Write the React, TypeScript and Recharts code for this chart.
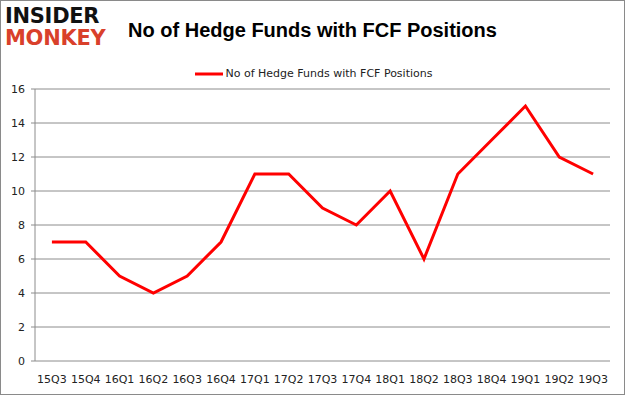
import { LineChart, Line, XAxis, YAxis, CartesianGrid } from "recharts"

const quarters = ["15Q3", "15Q4", "16Q1", "16Q2", "16Q3", "16Q4", "17Q1", "17Q2", "17Q3", "17Q4", "18Q1", "18Q2", "18Q3", "18Q4", "19Q1", "19Q2", "19Q3"]
const hedgeFunds = [7, 7, 5, 4, 5, 7, 11, 11, 9, 8, 10, 6, 11, 13, 15, 12, 11]
const yTicks = [0, 2, 4, 6, 8, 10, 12, 14, 16]

const seriesName = "No of Hedge Funds with FCF Positions"

// x is placed mid-band so tick marks can sit on the band edges, like Excel
const data = quarters.map((q, i) => ({ x: i + 0.5, quarter: q, funds: hedgeFunds[i] }))
const labelTicks = quarters.map((_, i) => i + 0.5)
const edgeTicks = quarters.map((_, i) => i).concat([quarters.length])

const font = "'DejaVu Sans', sans-serif"

export default function App() {
  return (
    <div style={{ position: "fixed", left: 0, top: 0, width: 625, height: 395, background: "#fff", boxSizing: "border-box", border: "1px solid #8a8a8a" }}>
      <div style={{ position: "absolute", left: 4, top: 4, fontFamily: "'DejaVu Sans', sans-serif", fontWeight: 900, lineHeight: "22px", fontSize: 21, letterSpacing: -0.3 }}>
        <div style={{ color: "#111" }}>INSIDER</div>
        <div style={{ color: "#d9402b" }}>MONKEY</div>
      </div>
      <div style={{ position: "absolute", left: 120, width: 383, top: 18, textAlign: "center", fontFamily: "'Liberation Sans', sans-serif", fontWeight: "bold", fontSize: 20, color: "#000" }}>
        {seriesName}
      </div>
      <div style={{ position: "absolute", left: 0, width: 625, top: 66, display: "flex", alignItems: "center", justifyContent: "center", fontFamily: font, fontSize: 11, color: "#222" }}>
        <svg width={28} height={6} style={{ marginRight: 3 }}>
          <line x1={0} y1={3} x2={28} y2={3} stroke="#ff0000" strokeWidth={3} />
        </svg>
        <span>{seriesName}</span>
      </div>
      <div style={{ position: "absolute", left: -1, top: -1 }}>
        <LineChart width={625} height={395} data={data} margin={{ top: 89, right: 15, bottom: 0, left: 0 }}>
          <CartesianGrid vertical={false} stroke="#8c8c8c" strokeWidth={1} />
          <XAxis
            xAxisId="edge"
            dataKey="x"
            type="number"
            domain={[0, quarters.length]}
            ticks={edgeTicks}
            tickFormatter={() => ""}
            height={0}
            stroke="#8c8c8c"
            tickSize={5}
            interval={0}
          />
          <XAxis
            dataKey="x"
            type="number"
            domain={[0, quarters.length]}
            ticks={labelTicks}
            tickFormatter={(v: number) => quarters[Math.round(v - 0.5)]}
            axisLine={false}
            tickLine={false}
            height={34}
            interval={0}
            tick={{ fontFamily: font, fontSize: 11, fill: "#222" }}
            tickMargin={8}
          />
          <YAxis
            domain={[0, 16]}
            ticks={yTicks}
            width={35}
            stroke="#8c8c8c"
            tickSize={4}
            tickMargin={6}
            interval={0}
            tick={{ fontFamily: font, fontSize: 11, fill: "#222" }}
          />
          <Line
            dataKey="funds"
            name={seriesName}
            stroke="#ff0000"
            strokeWidth={3}
            dot={false}
            type="linear"
            isAnimationActive={false}
          />
        </LineChart>
      </div>
    </div>
  )
}
